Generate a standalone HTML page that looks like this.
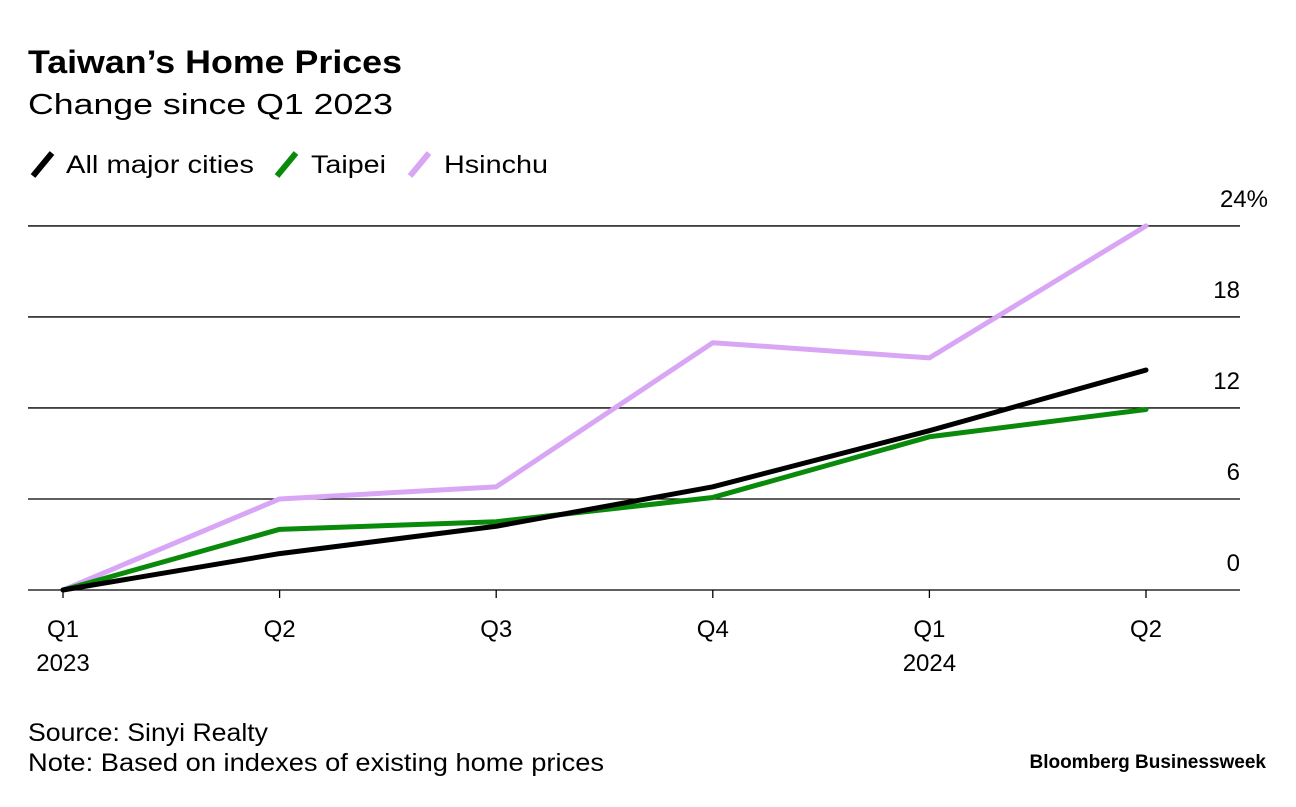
<!DOCTYPE html>
<html><head><meta charset="utf-8"><style>
body{margin:0;background:#fff;font-family:"Liberation Sans",sans-serif;}
svg text{font-family:"Liberation Sans",sans-serif;}
</style></head><body>
<svg id="c" width="1296" height="802">
<text x="28" y="73" font-size="32" font-weight="bold" fill="#000" textLength="374" lengthAdjust="spacingAndGlyphs">Taiwan’s Home Prices</text>
<text x="28" y="114" font-size="29" fill="#000" textLength="365" lengthAdjust="spacingAndGlyphs">Change since Q1 2023</text>
<g>
<line x1="33" y1="176" x2="52" y2="153" stroke="#000" stroke-width="6"/>
<text x="66" y="173" font-size="25" textLength="188" lengthAdjust="spacingAndGlyphs">All major cities</text>
<line x1="277" y1="176" x2="296" y2="153" stroke="#0a8a0a" stroke-width="6"/>
<text x="311" y="173" font-size="25" textLength="75" lengthAdjust="spacingAndGlyphs">Taipei</text>
<line x1="410" y1="176" x2="429" y2="153" stroke="#d9a6f5" stroke-width="6"/>
<text x="444" y="173" font-size="25" textLength="104" lengthAdjust="spacingAndGlyphs">Hsinchu</text>
</g>
<g id="grid"></g><g id="xax"></g><g id="series"></g>
<text x="28" y="741" font-size="25" textLength="240" lengthAdjust="spacingAndGlyphs">Source: Sinyi Realty</text>
<text x="28" y="771" font-size="25" textLength="576" lengthAdjust="spacingAndGlyphs">Note: Based on indexes of existing home prices</text>
<text x="1266" y="768" font-size="19" font-weight="bold" text-anchor="end">Bloomberg Businessweek</text>
</svg>
<script>
const categories=["Q1","Q2","Q3","Q4","Q1","Q2"];
const years=["2023","","","","2024",""];
const allCities=[0,2.4,4.2,6.8,10.5,14.5];
const taipei=[0,4.0,4.5,6.1,10.1,11.9];
const hsinchu=[0,6.0,6.8,16.3,15.3,24];
const yTicks=[0,6,12,18,24];
const NS="http://www.w3.org/2000/svg";
const x=i=>63+i*216.6;
const y=v=>590-v*15.17;
function mk(t,a,p){const e=document.createElementNS(NS,t);for(const k in a)e.setAttribute(k,a[k]);p.appendChild(e);return e;}
const grid=document.getElementById('grid');
yTicks.forEach(v=>{
 const l=mk('line',{x1:28,x2:1240,y1:y(v),y2:y(v),stroke:'#000','stroke-width':1.3},grid);
 
 
 const t=mk('text',{x:1240,y:y(v)-19,'font-size':24,'text-anchor':'end'},grid);
 t.textContent=v+(v===24?'%':'');
 if(v===24)t.setAttribute('x',1268);
 
 
});
const xax=document.getElementById('xax');
categories.forEach((c,i)=>{
 const l=mk('line',{x1:x(i),x2:x(i),y1:590,y2:598,stroke:'#000','stroke-width':1.3},xax);
 
 
 const t=mk('text',{x:x(i),y:637,'font-size':24,'text-anchor':'middle'},xax);
 t.textContent=c;
 
 
 if(years[i]){const u=mk('text',{x:x(i),y:671,'font-size':24,'text-anchor':'middle'},xax);u.textContent=years[i];
 
 }
});
const s=document.getElementById('series');
[[hsinchu,'#d9a6f5','line-hsinchu'],[taipei,'#0a8a0a','line-taipei'],[allCities,'#000','line-all-major-cities']].forEach(([d,col,n])=>{
 const p=mk('polyline',{points:d.map((v,i)=>x(i)+','+y(v)).join(' '),fill:'none',stroke:col,'stroke-width':5,'stroke-linecap':'round','stroke-linejoin':'round'},s);
 
 
});
</script>
</body></html>
